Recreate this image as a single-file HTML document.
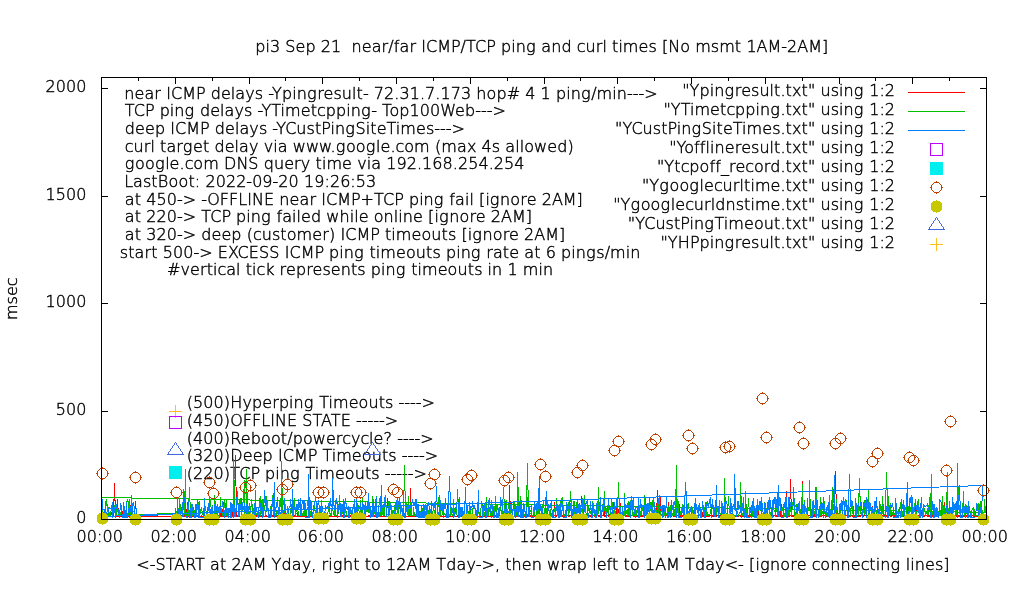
<!DOCTYPE html>
<html lang="en"><head><meta charset="utf-8"><title>pi3 Sep 21 near/far ICMP/TCP ping and curl times</title>
<style>html,body{margin:0;padding:0;background:#fff}body{width:1020px;height:600px;overflow:hidden}svg{display:block}text{font-family:"DejaVu Sans","Liberation Sans",sans-serif;font-size:16px;font-weight:200;font-kerning:none;font-variant-ligatures:none;fill:#000;stroke:#000;stroke-width:.42px;white-space:pre}.c{shape-rendering:crispEdges;fill:none}</style></head><body>
<svg width="1020" height="600" viewBox="0 0 1020 600">
<rect width="1020" height="600" fill="#fff"/>
<defs><path id="oc" d="M-2.5-5H2.5M-2.5 5H2.5M-5-2.5V2.5M5-2.5V2.5M-3.5-4h1m5 0h1M-4.5-3h1m7 0h1M-4.5 3h1m7 0h1M-3.5 4h1m5 0h1M0-6.5v1m0 11v1M-6.5 0h1m11 0h1" stroke="#c04000" fill="none" shape-rendering="crispEdges"/><path id="fc" d="M-3.5-5.5h7v1h1v1h1v7h-1v1h-1v1h-7v-1h-1v-1h-1v-7h1v-1h1zM-.5-6.5h1v13h-1z" fill="#c8c800" shape-rendering="crispEdges"/><path id="tr" d="M0-8L8 4H-8Z" stroke="#4169e1" fill="none" shape-rendering="crispEdges"/></defs>
<path class="c" d="M101.5 77v7M101.5 520v-7M138.5 77v4M138.5 520v-4M175.5 77v7M175.5 520v-7M212.5 77v4M212.5 520v-4M249.5 77v7M249.5 520v-7M285.5 77v4M285.5 520v-4M322.5 77v7M322.5 520v-7M359.5 77v4M359.5 520v-4M396.5 77v7M396.5 520v-7M433.5 77v4M433.5 520v-4M470.5 77v7M470.5 520v-7M507.5 77v4M507.5 520v-4M544.5 77v7M544.5 520v-7M580.5 77v4M580.5 520v-4M617.5 77v7M617.5 520v-7M654.5 77v4M654.5 520v-4M691.5 77v7M691.5 520v-7M728.5 77v4M728.5 520v-4M765.5 77v7M765.5 520v-7M802.5 77v4M802.5 520v-4M839.5 77v7M839.5 520v-7M875.5 77v4M875.5 520v-4M912.5 77v7M912.5 520v-7M949.5 77v4M949.5 520v-4M986.5 77v7M986.5 520v-7M101 519.5h7M987 519.5h-7M101 411.5h7M987 411.5h-7M101 303.5h7M987 303.5h-7M101 196.5h7M987 196.5h-7M101 88.5h7M987 88.5h-7" stroke="#000"/>
<text x="124.25 134.49 144.41 154.33 161.05 166.17 170.97 182.17 195.93 205.53 210.65 220.89 230.81 235.29 245.21 254.81 263.13 268.25 272.09 282.01 292.25 296.73 306.97 317.21 323.61 333.53 341.85 352.09 356.57 362.97 368.73 373.85 384.09 394.33 399.45 409.69 419.93 425.05 435.29 440.41 450.65 460.89 471.13 476.25 486.49 496.41 506.65 520.09 525.21 535.45 540.57 550.81 555.93 566.17 570.65 580.89 591.13 596.57 612.25 616.73 626.97 632.73 638.49 644.25" y="99">near ICMP delays -Ypingresult- 72.31.7.173 hop# 4 1 ping/min---&gt;</text>
<text x="124.75 133.71 144.91 154.51 159.63 169.87 174.35 184.59 194.83 199.95 210.19 220.11 224.59 234.51 244.11 252.43 257.55 261.39 271.31 280.59 285.07 300.75 310.67 317.07 325.71 335.95 346.19 350.67 360.91 371.15 376.91 382.03 389.39 399.31 409.55 419.79 430.03 440.27 454.99 464.91 475.15 480.91 486.67 492.43" y="116">TCP ping delays -YTimetcpping- Top100Web---&gt;</text>
<text x="124.82 135.06 144.98 154.9 165.14 170.26 175.06 186.26 200.02 209.62 214.74 224.98 234.9 239.38 249.3 258.9 267.22 272.34 276.18 285.14 296.34 306.58 314.9 321.3 330.58 335.06 345.3 355.54 365.78 370.26 376.66 386.58 395.86 400.34 416.02 425.94 434.26 440.02 445.78 451.54" y="134">deep ICMP delays -YCustPingSiteTimes---&gt;</text>
<text x="124.82 133.46 143.7 150.42 154.9 160.02 166.42 176.34 182.74 192.98 202.9 209.3 214.42 224.66 234.58 239.06 248.98 258.58 263.7 273.3 277.78 287.7 292.82 305.94 319.06 330.58 335.7 345.94 355.86 365.78 376.02 380.5 390.42 395.54 404.18 414.1 429.78 434.9 441.3 456.98 466.9 476.5 481.62 491.86 500.18 505.3 515.22 519.7 524.18 534.1 547.22 557.14 567.38" y="152">curl target delay via www.google.com (max 4s allowed)</text>
<text x="124.82 135.06 144.98 154.9 165.14 169.62 179.54 184.66 193.3 203.22 218.9 224.02 236.5 248.34 258.58 263.7 273.94 284.18 294.1 300.82 310.42 315.54 321.94 326.42 342.1 352.02 357.14 366.74 371.22 381.14 386.26 396.5 406.74 416.98 422.1 432.34 442.58 452.82 457.94 468.18 478.42 488.66 493.78 504.02 514.26" y="169">google.com DNS query time via 192.168.254.254</text>
<text x="124.13 133.09 143.01 151.33 157.73 168.61 178.53 188.45 194.85 200.29 205.41 215.65 225.89 236.13 246.37 252.13 262.37 272.61 278.37 288.61 298.85 303.97 314.21 324.45 329.89 340.13 350.37 355.81 366.05" y="187">LastBoot: 2022-09-20 19:26:53</text>
<text x="124.74 134.66 141.06 146.18 156.42 166.66 176.9 182.66 196.1 201.22 207.3 219.78 229.06 238.34 247.3 252.1 263.94 274.18 279.3 289.54 299.46 309.38 316.1 321.22 326.02 337.22 350.98 360.58 374.02 382.98 394.18 403.78 408.9 419.14 423.62 433.86 444.1 449.22 454.98 464.9 469.38 473.86 478.98 485.38 489.86 500.1 510.34 520.26 526.66 536.58 541.7 551.94 562.82 576.58" y="205">at 450-&gt; -OFFLINE near ICMP+TCP ping fail [ignore 2AM]</text>
<text x="124.74 134.66 141.06 146.18 156.42 166.66 176.9 182.66 196.1 201.22 210.18 221.38 230.98 236.1 246.34 250.82 261.06 271.3 276.42 282.18 292.1 296.58 301.06 310.98 321.22 326.34 339.46 349.7 354.18 358.66 368.58 373.7 383.62 393.86 398.34 402.82 413.06 422.98 428.1 434.5 438.98 449.22 459.46 469.38 475.78 485.7 490.82 501.06 511.94 525.7" y="222">at 220-&gt; TCP ping failed while online [ignore 2AM]</text>
<text x="124.74 134.66 141.06 146.18 156.42 166.66 176.9 182.66 196.1 201.22 211.46 221.38 231.3 241.54 246.66 253.06 261.7 271.94 280.26 286.66 296.58 312.26 322.18 328.9 335.3 340.42 345.22 356.42 370.18 379.78 384.9 391.3 395.78 411.46 421.38 431.3 441.54 447.94 456.26 461.38 467.78 472.26 482.5 492.74 502.66 509.06 518.98 524.1 534.34 545.22 558.98" y="240">at 320-&gt; deep (customer) ICMP timeouts [ignore 2AM]</text>
<text x="119.83 128.15 134.55 144.47 151.19 157.59 162.71 172.95 183.19 193.43 199.19 212.63 217.75 227.99 237.59 248.79 259.03 269.27 279.51 284.63 289.43 300.63 314.39 323.99 329.11 339.35 343.83 354.07 364.31 369.43 375.83 380.31 395.99 405.91 415.83 426.07 432.47 440.79 445.91 456.15 460.63 470.87 481.11 486.23 492.95 502.87 509.27 519.19 524.31 534.23 540.63 545.75 555.99 561.11 571.35 575.83 586.07 596.31 604.63 610.07 625.75 630.23" y="257.5">start 500-&gt; EXCESS ICMP ping timeouts ping rate at 6 pings/min</text>
<text x="166.97 180.41 190.01 199.93 206.65 213.05 217.53 226.17 236.09 240.57 245.69 252.09 256.57 265.21 274.49 279.61 286.01 295.93 306.17 312.57 322.49 330.81 340.73 350.97 357.37 365.69 370.81 381.05 385.53 395.77 406.01 411.13 417.53 422.01 437.69 447.61 457.53 467.77 474.17 482.49 487.61 492.09 502.33 507.45 517.69 522.81 538.49 542.97" y="275">#vertical tick represents ping timeouts in 1 min</text>
<text x="186.72 193.12 203.37 213.6 223.84 230.25 242.41 252 262.25 272.16 278.88 289.12 293.61 303.85 314.08 319.2 328.49 332.97 348.64 358.56 368.49 378.73 385.12 393.44 398.56 404.32 410.09 415.85 421.61" y="408">(500)Hyperping Timeouts ----&gt;</text>
<text x="186.72 193.12 203.37 213.6 223.84 230.25 242.72 252 261.28 270.25 275.05 286.88 297.12 302.25 312.49 321.12 330.73 340.64 350.88 356 361.76 367.52 373.28 379.04 384.81" y="426">(450)OFFLINE STATE -----&gt;</text>
<text x="186.72 193.12 203.37 213.6 223.84 230.25 240.81 250.72 260.96 270.88 280.81 287.2 292.64 302.88 312.81 325.93 335.85 342.25 350.88 360.49 369.12 373.61 383.52 392.16 397.28 403.04 408.81 414.56 420.32" y="443.5">(400)Reboot/powercycle? ----&gt;</text>
<text x="186.72 193.12 203.37 213.6 223.84 230.25 242.72 252.64 262.56 272.81 277.93 282.73 293.93 307.69 317.28 322.4 331.69 336.16 351.85 361.76 371.69 381.93 388.32 396.64 401.76 407.52 413.28 419.04 424.81" y="461">(320)Deep ICMP Timeouts ----&gt;</text>
<text x="186.72 193.12 203.37 213.6 223.84 230.25 239.2 250.41 260 265.12 275.37 279.85 290.08 300.32 305.44 314.73 319.2 334.88 344.81 354.73 364.97 371.37 379.69 384.81 390.56 396.32 402.09 407.85 413.61" y="478.5">(220)TCP ping Timeouts -----&gt;</text>
<path class="c" d="M169.0 411.5h13M175.5 405.0v13" stroke="#ffc020"/>
<rect class="c" x="169.5" y="416.5" width="12" height="12" stroke="#c000ff"/>
<use href="#tr" x="175.5" y="450.5"/>
<rect x="169.0" y="466.0" width="13" height="13" fill="#00eeee" shape-rendering="crispEdges"/>
<text x="255.18 265.42 269.9 280.14 285.26 295.5 305.42 315.66 320.78 331.02 341.26 346.38 351.5 361.74 371.66 381.58 388.3 393.74 399.5 409.42 416.14 421.26 426.06 437.26 451.02 460.62 466.06 475.02 486.22 495.82 500.94 511.18 515.66 525.9 536.14 541.26 551.18 561.42 571.66 576.78 585.42 595.66 602.38 606.86 611.98 618.38 622.86 638.54 648.46 656.78 661.9 668.3 680.14 690.06 695.18 710.86 719.18 734.86 741.26 746.38 756.62 767.5 781.26 787.02 797.26 808.14 821.9" y="52">pi3 Sep 21  near/far ICMP/TCP ping and curl times [No msmt 1AM-2AM]</text>
<text x="136.2 149.64 155.4 165.64 174.28 185.16 195.08 205 210.12 220.04 226.44 231.56 241.8 252.68 266.44 271.56 281.48 291.72 301.64 311.24 316.36 321.48 328.2 332.68 342.92 353.16 359.56 364.68 371.08 381 386.12 396.36 406.6 417.48 431.24 436.36 446.28 456.52 466.44 475.72 481.48 494.92 500.04 505.16 511.56 521.8 531.72 541.96 547.08 560.2 566.92 576.84 587.08 592.2 596.68 606.6 612.04 618.44 623.56 629.96 639.88 645 655.24 666.12 679.88 685 694.92 705.16 715.08 724.68 738.12 743.88 749 755.4 759.88 770.12 780.36 790.28 796.68 806.6 811.72 820.36 830.28 840.52 850.76 860.68 869.32 875.72 880.2 890.44 900.68 905.8 910.28 914.76 925 934.92 943.24" y="570">&lt;-START at 2AM Yday, right to 12AM Tday-&gt;, then wrap left to 1AM Tday&lt;- [ignore connecting lines]</text>
<text transform="translate(17 320.09) rotate(-90)" x="0 15.68 24 33.92" y="0">msec</text>
<text x="45.51 55.75 65.99 76.23" y="92">2000</text>
<text x="45.51 55.75 65.99 76.23" y="200">1500</text>
<text x="45.51 55.75 65.99 76.23" y="307">1000</text>
<text x="55.75 65.99 76.23" y="415">500</text>
<text x="76.23" y="523">0</text>
<text x="76.53 86.77 97.01 102.45 112.69" y="542">00:00</text>
<text x="150.53 160.77 171.01 176.45 186.69" y="542">02:00</text>
<text x="224.53 234.77 245.01 250.45 260.69" y="542">04:00</text>
<text x="297.53 307.77 318.01 323.45 333.69" y="542">06:00</text>
<text x="371.53 381.77 392.01 397.45 407.69" y="542">08:00</text>
<text x="445.18 455.42 465.66 471.1 481.34" y="542">10:00</text>
<text x="519.18 529.42 539.66 545.1 555.34" y="542">12:00</text>
<text x="592.18 602.42 612.66 618.1 628.34" y="542">14:00</text>
<text x="666.18 676.42 686.66 692.1 702.34" y="542">16:00</text>
<text x="740.18 750.42 760.66 766.1 776.34" y="542">18:00</text>
<text x="814.48 824.72 834.96 840.4 850.64" y="542">20:00</text>
<text x="887.48 897.72 907.96 913.4 923.64" y="542">22:00</text>
<text x="961.53 971.77 982.01 987.45 997.69" y="542">00:00</text>
<path class="c" d="M175.5 515.5H176.5L177.5 516.5V515.5L178.5 516.5L179.5 514.5V516.5L180.5 515.5V516.5L181.5 515.5H182.5V516.5H183.5V515.5H184.5L185.5 516.5H186.5L187.5 502.5V515.5L188.5 516.5V515.5H189.5H190.5L191.5 516.5V515.5L192.5 516.5H193.5V511.5L194.5 515.5H195.5L196.5 516.5L197.5 515.5L198.5 516.5L199.5 515.5V516.5H200.5L201.5 515.5V516.5H202.5H203.5L204.5 515.5V516.5L205.5 515.5L206.5 516.5L207.5 515.5V516.5L208.5 515.5L209.5 516.5H210.5H211.5V515.5L212.5 516.5H213.5H214.5H215.5H216.5L217.5 515.5V516.5H218.5H219.5L220.5 515.5V509.5L221.5 515.5L222.5 516.5V515.5L223.5 502.5V515.5L224.5 516.5L225.5 515.5L226.5 504.5V515.5L227.5 516.5H228.5H229.5H230.5V515.5L231.5 516.5V504.5L232.5 516.5L233.5 515.5H234.5L235.5 455.5L236.5 516.5V515.5H237.5L238.5 516.5V510.5L239.5 516.5H240.5H241.5L242.5 515.5V516.5H243.5H244.5L245.5 512.5L246.5 515.5V516.5L247.5 515.5H248.5H249.5H250.5H251.5H252.5V514.5L253.5 516.5H254.5V515.5H255.5L256.5 514.5L257.5 516.5H258.5L259.5 515.5H260.5H261.5L262.5 516.5V515.5H263.5V516.5H264.5L265.5 515.5V516.5L266.5 515.5V516.5H267.5H268.5L269.5 515.5L270.5 514.5V516.5H271.5L272.5 515.5H273.5V516.5H274.5H275.5H276.5L277.5 515.5L278.5 516.5V514.5L279.5 515.5H280.5L281.5 516.5H282.5H283.5H284.5V513.5L285.5 515.5H286.5L287.5 516.5H288.5H289.5H290.5V515.5L291.5 516.5H292.5H293.5L294.5 515.5L295.5 516.5V515.5L296.5 516.5H297.5V512.5L298.5 516.5L299.5 515.5H300.5L301.5 516.5L302.5 515.5L303.5 516.5H304.5L305.5 511.5V515.5H306.5V516.5H307.5H308.5H309.5H310.5L311.5 515.5H312.5H313.5V516.5L314.5 515.5V516.5L315.5 515.5L316.5 516.5V511.5L317.5 516.5H318.5H319.5H320.5H321.5V515.5L322.5 516.5V515.5H323.5L324.5 516.5V515.5L325.5 516.5H326.5L327.5 515.5V516.5H328.5H329.5V515.5L330.5 516.5V515.5H331.5L332.5 516.5H333.5H334.5H335.5H336.5H337.5H338.5H339.5H340.5H341.5L342.5 515.5L343.5 516.5H344.5V515.5H345.5L346.5 516.5V515.5H347.5H348.5V516.5H349.5L350.5 515.5L351.5 516.5L352.5 515.5V516.5H353.5L354.5 515.5V516.5L355.5 511.5L356.5 516.5L357.5 515.5V516.5H358.5L359.5 515.5H360.5V516.5L361.5 515.5L362.5 516.5L363.5 515.5H364.5V516.5H365.5V515.5L366.5 516.5H367.5L368.5 515.5H369.5L370.5 516.5V515.5H371.5L372.5 516.5H373.5V515.5H374.5L375.5 516.5H376.5V515.5H377.5L378.5 516.5L379.5 515.5L380.5 516.5H381.5V515.5L382.5 516.5L383.5 515.5V516.5H384.5V515.5L385.5 516.5H386.5V515.5L387.5 498.5L388.5 516.5V515.5H389.5H390.5H391.5H392.5V516.5L393.5 515.5L394.5 516.5V515.5H395.5H396.5H397.5V516.5H398.5L399.5 515.5V516.5H400.5V515.5L401.5 516.5H402.5H403.5V511.5L404.5 516.5H405.5V515.5L406.5 516.5H407.5H408.5V515.5H409.5H410.5V488.5L411.5 516.5V515.5H412.5H413.5V516.5H414.5H415.5V515.5H416.5L417.5 516.5L418.5 515.5V516.5L419.5 515.5V516.5H420.5H421.5V515.5L422.5 516.5L423.5 515.5V514.5L424.5 511.5V516.5L425.5 515.5L426.5 516.5V515.5H427.5L428.5 514.5L429.5 515.5H430.5L431.5 516.5H432.5H433.5H434.5V513.5L435.5 516.5V515.5L436.5 516.5H437.5V515.5L438.5 516.5H439.5H440.5L441.5 515.5L442.5 516.5H443.5H444.5H445.5H446.5H447.5V515.5L448.5 491.5V515.5L449.5 514.5L450.5 516.5H451.5H452.5H453.5V515.5L454.5 516.5H455.5H456.5L457.5 515.5L458.5 516.5V515.5H459.5L460.5 516.5L461.5 515.5V516.5H462.5L463.5 511.5L464.5 516.5H465.5H466.5V515.5H467.5L468.5 516.5L469.5 515.5V516.5L470.5 515.5H471.5L472.5 516.5H473.5L474.5 515.5V516.5H475.5L476.5 515.5L477.5 516.5V515.5L478.5 516.5L479.5 515.5L480.5 516.5H481.5H482.5V515.5H483.5V516.5L484.5 515.5L485.5 516.5V515.5L486.5 516.5L487.5 515.5L488.5 516.5H489.5H490.5V515.5L491.5 516.5L492.5 515.5H493.5V516.5H494.5V515.5H495.5H496.5L497.5 516.5L498.5 515.5V516.5H499.5V515.5L500.5 516.5H501.5L502.5 515.5V512.5L503.5 516.5H504.5V512.5L505.5 515.5H506.5L507.5 516.5V515.5L508.5 516.5L509.5 515.5V485.5L510.5 516.5V515.5L511.5 502.5L512.5 516.5H513.5H514.5H515.5L516.5 515.5L517.5 516.5H518.5L519.5 515.5H520.5V516.5L521.5 515.5V516.5L522.5 515.5H523.5V516.5H524.5L525.5 515.5V516.5L526.5 515.5V516.5L527.5 514.5L528.5 515.5L529.5 516.5L530.5 515.5L531.5 516.5H532.5L533.5 515.5H534.5H535.5H536.5L537.5 516.5H538.5H539.5H540.5L541.5 512.5V515.5H542.5V516.5L543.5 515.5L544.5 516.5H545.5V515.5H546.5H547.5V512.5L548.5 516.5H549.5L550.5 515.5L551.5 516.5H552.5H553.5V515.5L554.5 502.5L555.5 516.5H556.5L557.5 515.5H558.5V516.5H559.5H560.5H561.5H562.5H563.5V515.5L564.5 516.5L565.5 515.5V516.5H566.5V515.5H567.5H568.5V516.5H569.5V515.5H570.5L571.5 516.5L572.5 513.5L573.5 516.5V515.5H574.5V516.5H575.5H576.5H577.5V515.5H578.5L579.5 516.5L580.5 515.5L581.5 496.5L582.5 516.5L583.5 515.5L584.5 516.5L585.5 515.5H586.5L587.5 516.5L588.5 515.5V516.5H589.5H590.5V515.5L591.5 516.5L592.5 515.5V516.5L593.5 515.5L594.5 516.5L595.5 515.5V516.5H596.5V515.5H597.5L598.5 516.5H599.5L600.5 515.5V513.5L601.5 516.5V515.5H602.5H603.5V503.5L604.5 516.5H605.5H606.5V515.5H607.5L608.5 516.5L609.5 515.5V516.5L610.5 512.5L611.5 515.5H612.5L613.5 502.5L614.5 515.5V516.5L615.5 515.5L616.5 506.5V516.5H617.5V515.5L618.5 516.5L619.5 502.5V515.5L620.5 503.5V515.5L621.5 516.5H622.5L623.5 515.5H624.5L625.5 516.5V515.5L626.5 516.5H627.5V515.5H628.5V516.5H629.5L630.5 515.5V516.5L631.5 515.5H632.5L633.5 516.5H634.5H635.5V515.5H636.5V516.5H637.5H638.5V513.5L639.5 516.5H640.5L641.5 515.5V516.5H642.5H643.5H644.5V515.5H645.5L646.5 507.5V515.5H647.5V516.5L648.5 515.5H649.5L650.5 516.5L651.5 515.5V516.5H652.5L653.5 515.5H654.5L655.5 516.5H656.5L657.5 490.5V516.5H658.5H659.5L660.5 497.5V516.5L661.5 515.5L662.5 516.5V515.5L663.5 516.5V508.5L664.5 515.5H665.5H666.5L667.5 516.5L668.5 515.5V502.5L669.5 516.5L670.5 515.5V516.5H671.5L672.5 515.5L673.5 516.5H674.5H675.5V515.5H676.5H677.5L678.5 516.5H679.5V504.5L680.5 516.5L681.5 515.5V516.5H682.5L683.5 515.5V516.5H684.5V515.5L685.5 514.5L686.5 515.5L687.5 516.5L688.5 515.5H689.5L690.5 516.5L691.5 515.5H692.5V516.5H693.5L694.5 515.5L695.5 511.5V516.5L696.5 515.5H697.5V516.5H698.5V515.5H699.5L700.5 516.5V515.5L701.5 516.5L702.5 512.5V516.5H703.5V513.5L704.5 516.5L705.5 515.5L706.5 516.5H707.5H708.5H709.5L710.5 515.5L711.5 516.5H712.5L713.5 515.5V516.5L714.5 511.5V515.5H715.5L716.5 516.5L717.5 515.5L718.5 516.5H719.5V515.5H720.5L721.5 516.5H722.5V515.5L723.5 516.5L724.5 503.5V516.5H725.5L726.5 515.5V516.5L727.5 515.5V516.5H728.5H729.5V515.5H730.5V511.5L731.5 514.5L732.5 515.5V516.5H733.5L734.5 515.5V516.5H735.5V515.5L736.5 516.5L737.5 515.5V516.5H738.5L739.5 515.5L740.5 516.5H741.5H742.5H743.5V515.5L744.5 516.5H745.5V515.5L746.5 516.5H747.5L748.5 515.5V516.5L749.5 515.5H750.5V516.5L751.5 515.5V516.5H752.5L753.5 515.5V516.5L754.5 515.5V516.5H755.5H756.5V515.5L757.5 516.5V502.5L758.5 515.5L759.5 516.5H760.5H761.5V515.5L762.5 516.5H763.5H764.5V515.5L765.5 516.5L766.5 515.5L767.5 507.5V515.5L768.5 516.5L769.5 515.5V516.5L770.5 515.5V516.5H771.5L772.5 515.5L773.5 516.5V515.5H774.5H775.5L776.5 516.5H777.5L778.5 515.5V516.5L779.5 515.5L780.5 516.5L781.5 504.5V516.5H782.5H783.5V515.5L784.5 516.5H785.5V507.5L786.5 491.5V516.5H787.5L788.5 507.5V516.5L789.5 515.5V516.5L790.5 479.5L791.5 516.5V515.5L792.5 516.5H793.5H794.5V515.5H795.5H796.5L797.5 516.5H798.5H799.5V515.5H800.5L801.5 516.5V515.5L802.5 481.5V514.5L803.5 513.5L804.5 516.5L805.5 515.5V516.5H806.5L807.5 515.5V516.5L808.5 515.5H809.5L810.5 516.5H811.5H812.5V515.5H813.5V516.5H814.5L815.5 509.5V516.5H816.5L817.5 515.5L818.5 516.5V515.5L819.5 516.5H820.5V515.5H821.5V516.5L822.5 515.5L823.5 516.5L824.5 515.5L825.5 516.5H826.5H827.5L828.5 515.5H829.5L830.5 516.5H831.5L832.5 515.5V516.5H833.5H834.5L835.5 471.5L836.5 515.5H837.5H838.5L839.5 516.5H840.5L841.5 515.5L842.5 516.5H843.5H844.5V515.5L845.5 516.5L846.5 515.5L847.5 516.5V515.5H848.5L849.5 516.5H850.5L851.5 515.5L852.5 516.5V515.5H853.5V516.5H854.5H855.5H856.5H857.5H858.5H859.5H860.5L861.5 515.5L862.5 516.5L863.5 515.5V516.5L864.5 515.5H865.5L866.5 516.5V515.5H867.5H868.5L869.5 516.5H870.5H871.5V515.5L872.5 516.5V506.5L873.5 516.5H874.5V515.5L875.5 516.5H876.5L877.5 515.5H878.5H879.5V516.5H880.5H881.5H882.5V515.5H883.5L884.5 516.5L885.5 515.5L886.5 516.5L887.5 515.5H888.5V516.5L889.5 513.5L890.5 516.5H891.5L892.5 515.5L893.5 516.5H894.5L895.5 515.5V516.5H896.5V515.5L897.5 516.5L898.5 515.5V516.5L899.5 515.5H900.5L901.5 516.5L902.5 515.5L903.5 516.5H904.5V515.5L905.5 516.5L906.5 515.5V516.5L907.5 515.5V516.5L908.5 515.5H909.5V516.5H910.5L911.5 515.5V516.5L912.5 515.5V516.5H913.5H914.5L915.5 512.5V503.5L916.5 515.5L917.5 516.5V515.5H918.5H919.5V516.5H920.5V504.5L921.5 515.5L922.5 516.5H923.5H924.5L925.5 515.5H926.5L927.5 516.5H928.5V515.5L929.5 516.5H930.5L931.5 515.5V516.5H932.5L933.5 515.5H934.5V516.5H935.5L936.5 515.5H937.5H938.5V516.5L939.5 515.5H940.5L941.5 516.5L942.5 515.5V516.5L943.5 515.5L944.5 502.5V516.5H945.5H946.5V515.5L947.5 516.5V515.5H948.5L949.5 514.5V507.5L950.5 516.5H951.5H952.5V515.5L953.5 516.5H954.5H955.5H956.5H957.5L958.5 515.5V516.5H959.5H960.5H961.5H962.5H963.5V515.5L964.5 516.5L965.5 515.5V516.5H966.5H967.5L968.5 515.5V516.5H969.5H970.5H971.5L972.5 515.5L973.5 516.5L974.5 511.5V516.5L975.5 515.5L976.5 516.5V515.5L977.5 516.5H978.5L979.5 515.5V516.5H980.5H981.5H982.5H983.5H984.5L985.5 515.5L101.5 516.5V507.5L102.5 515.5V516.5L103.5 514.5L104.5 515.5V514.5L105.5 516.5H106.5L107.5 513.5V515.5L108.5 516.5H109.5L110.5 515.5V516.5L111.5 513.5L112.5 515.5V516.5L113.5 500.5V516.5L114.5 483.5L115.5 516.5V515.5L116.5 516.5V509.5L117.5 499.5L118.5 516.5L119.5 515.5L120.5 516.5V515.5L121.5 516.5V505.5L122.5 515.5L123.5 513.5V516.5L124.5 515.5L125.5 516.5L126.5 515.5H127.5L128.5 516.5H129.5L130.5 505.5L131.5 516.5V515.5L132.5 516.5H133.5L134.5 515.5V516.5L135.5 501.5L136.5 515.5L137.5 516.5L138.5 515.5L176.5 516.5" stroke="#ff0000"/>
<path class="c" d="M175.5 515.5L176.5 512.5L177.5 515.5V499.5L178.5 515.5L179.5 502.5V499.5L180.5 507.5V511.5L181.5 512.5L182.5 503.5V515.5H183.5L184.5 513.5L185.5 469.5V507.5L186.5 515.5L187.5 510.5V506.5L188.5 515.5V508.5L189.5 487.5L190.5 515.5V506.5L191.5 504.5V506.5L192.5 515.5L193.5 510.5V515.5L194.5 511.5L195.5 513.5V515.5L196.5 514.5V515.5L197.5 505.5L198.5 513.5V502.5L199.5 509.5V515.5L200.5 510.5L201.5 508.5V507.5L202.5 513.5L203.5 515.5L204.5 510.5V501.5L205.5 510.5L206.5 511.5V513.5L207.5 512.5V513.5L208.5 514.5L209.5 515.5V512.5L210.5 499.5L211.5 513.5V514.5L212.5 515.5V505.5L213.5 515.5L214.5 513.5V495.5L215.5 505.5V515.5L216.5 514.5L217.5 504.5V514.5L218.5 515.5H219.5V514.5L220.5 497.5V508.5H221.5L222.5 515.5V513.5L223.5 515.5V510.5L224.5 500.5L225.5 515.5V505.5L226.5 515.5V500.5L227.5 514.5L228.5 508.5V515.5L229.5 513.5L230.5 504.5V515.5H231.5V513.5L232.5 506.5L233.5 510.5V459.5L234.5 499.5V512.5L235.5 515.5L236.5 501.5V506.5L237.5 502.5L238.5 503.5V514.5L239.5 515.5V511.5L240.5 498.5L241.5 515.5L242.5 508.5L243.5 498.5L244.5 480.5V515.5L245.5 506.5L246.5 514.5V469.5L247.5 515.5V505.5L248.5 515.5L249.5 513.5V515.5L250.5 509.5V513.5L251.5 499.5L252.5 514.5V504.5L253.5 511.5L254.5 515.5L255.5 514.5V512.5L256.5 513.5L257.5 515.5L258.5 509.5V515.5L259.5 513.5L260.5 515.5V496.5L261.5 511.5L262.5 515.5V499.5H263.5V506.5L264.5 505.5L265.5 515.5L266.5 508.5V496.5L267.5 505.5L268.5 513.5V515.5L269.5 514.5L270.5 513.5V506.5L271.5 515.5V513.5L272.5 495.5H273.5V514.5L274.5 511.5V515.5H275.5L276.5 511.5V515.5L277.5 511.5L278.5 515.5H279.5V504.5L280.5 498.5L281.5 514.5V461.5L282.5 512.5V509.5L283.5 501.5L284.5 502.5V512.5L285.5 504.5V513.5L286.5 514.5L287.5 513.5V506.5L288.5 515.5H289.5V514.5L290.5 515.5V508.5H291.5L292.5 501.5V515.5L293.5 512.5V515.5L294.5 498.5L295.5 515.5L296.5 512.5L297.5 508.5V506.5L298.5 515.5H299.5H300.5V513.5L301.5 515.5V510.5L302.5 515.5L303.5 511.5V515.5H304.5L305.5 503.5V515.5H306.5V513.5L307.5 506.5L308.5 496.5V513.5L309.5 504.5V506.5L310.5 515.5L311.5 506.5V515.5H312.5L313.5 512.5V513.5L314.5 508.5V506.5L315.5 512.5L316.5 513.5V502.5L317.5 514.5V515.5H318.5H319.5V514.5L320.5 515.5L321.5 500.5V515.5L322.5 513.5V515.5H323.5H324.5V511.5L325.5 513.5V515.5H326.5H327.5L328.5 508.5L329.5 510.5V511.5L330.5 515.5H331.5L332.5 503.5V506.5L333.5 514.5V512.5L334.5 515.5L335.5 501.5V515.5H336.5H337.5V513.5H338.5L339.5 495.5L340.5 514.5V513.5L341.5 512.5V505.5L342.5 513.5L343.5 512.5V506.5L344.5 515.5V503.5L345.5 512.5L346.5 511.5V515.5H347.5H348.5L349.5 508.5V511.5L350.5 513.5L351.5 512.5V510.5L352.5 512.5V515.5H353.5L354.5 513.5V515.5L355.5 507.5L356.5 511.5V515.5L357.5 513.5V515.5L358.5 505.5L359.5 515.5V513.5L360.5 515.5V500.5L361.5 515.5L362.5 510.5V497.5L363.5 509.5H364.5L365.5 506.5V515.5L366.5 508.5L367.5 511.5V503.5L368.5 512.5V495.5L369.5 512.5H370.5L371.5 515.5H372.5V496.5L373.5 512.5V515.5L374.5 511.5L375.5 515.5V506.5L376.5 496.5V507.5L377.5 515.5H378.5V511.5L379.5 499.5L380.5 501.5V515.5H381.5V501.5L382.5 513.5L383.5 515.5V507.5L384.5 504.5V515.5L385.5 495.5L386.5 514.5V515.5L387.5 514.5L388.5 513.5V501.5H389.5V511.5L390.5 507.5L391.5 505.5V515.5L392.5 513.5V510.5H393.5L394.5 514.5V505.5L395.5 515.5H396.5L397.5 511.5V497.5L398.5 512.5L399.5 515.5V514.5L400.5 515.5V502.5L401.5 508.5L402.5 515.5V512.5H403.5V515.5L404.5 465.5L405.5 515.5L406.5 503.5L407.5 505.5V513.5L408.5 515.5V496.5L409.5 514.5L410.5 515.5V503.5L411.5 504.5V515.5H412.5H413.5V507.5L414.5 515.5H415.5V514.5L416.5 513.5V512.5L417.5 515.5L418.5 506.5V515.5H419.5L420.5 512.5L421.5 515.5L422.5 508.5L423.5 515.5V514.5L424.5 515.5V507.5L425.5 504.5L426.5 515.5V513.5H427.5V503.5L428.5 515.5L429.5 514.5V508.5L430.5 511.5L431.5 515.5V511.5L432.5 515.5L433.5 506.5L434.5 513.5V512.5H435.5V515.5H436.5L437.5 512.5V515.5L438.5 499.5L439.5 495.5V515.5L440.5 510.5V515.5H441.5L442.5 514.5V506.5L443.5 513.5V514.5L444.5 513.5L445.5 515.5H446.5H447.5V514.5L448.5 503.5V513.5L449.5 515.5H450.5V498.5L451.5 514.5V513.5L452.5 515.5H453.5V499.5L454.5 515.5L455.5 512.5V508.5L456.5 514.5L457.5 489.5L458.5 508.5V512.5L459.5 515.5V505.5L460.5 515.5L461.5 513.5V508.5L462.5 513.5V511.5L463.5 515.5H464.5H465.5L466.5 513.5V515.5L467.5 512.5V506.5L468.5 515.5L469.5 512.5V503.5L470.5 513.5V510.5L471.5 509.5L472.5 508.5V515.5H473.5H474.5H475.5H476.5L477.5 513.5L478.5 500.5V513.5L479.5 512.5L480.5 515.5V513.5L481.5 502.5L482.5 504.5V513.5L483.5 515.5V507.5L484.5 515.5L485.5 514.5V507.5L486.5 497.5V512.5L487.5 514.5L488.5 506.5V515.5L489.5 507.5L490.5 515.5V510.5L491.5 500.5V502.5L492.5 515.5L493.5 510.5V513.5L494.5 515.5L495.5 496.5L496.5 513.5V514.5L497.5 504.5L498.5 515.5V514.5L499.5 508.5V515.5L500.5 507.5L501.5 512.5V515.5L502.5 511.5L503.5 487.5L504.5 510.5V515.5H505.5L506.5 500.5V515.5H507.5L508.5 503.5L509.5 507.5V515.5L510.5 510.5V515.5L511.5 505.5L512.5 515.5L513.5 507.5L514.5 513.5V501.5L515.5 515.5V509.5L516.5 515.5L517.5 509.5V472.5L518.5 501.5V508.5L519.5 511.5L520.5 496.5V510.5L521.5 502.5V515.5L522.5 513.5L523.5 515.5H524.5L525.5 513.5V514.5L526.5 508.5V507.5L527.5 463.5L528.5 515.5V497.5L529.5 513.5V515.5L530.5 512.5L531.5 508.5V515.5H532.5H533.5V507.5L534.5 515.5V505.5L535.5 504.5L536.5 515.5V514.5L537.5 501.5V502.5L538.5 514.5L539.5 499.5V515.5L540.5 504.5L541.5 513.5V508.5L542.5 510.5V507.5L543.5 500.5L544.5 515.5H545.5V512.5L546.5 515.5L547.5 500.5V515.5L548.5 504.5L549.5 515.5H550.5V509.5L551.5 515.5L552.5 513.5V515.5L553.5 511.5V515.5L554.5 508.5L555.5 514.5V515.5L556.5 498.5L557.5 515.5V507.5L558.5 515.5L559.5 507.5L560.5 500.5V515.5L561.5 498.5V506.5L562.5 497.5L563.5 514.5V515.5H564.5L565.5 512.5V515.5H566.5V511.5L567.5 506.5L568.5 502.5V515.5L569.5 505.5V512.5L570.5 491.5L571.5 506.5V515.5H572.5H573.5V513.5L574.5 515.5V501.5L575.5 514.5L576.5 502.5V513.5L577.5 500.5V513.5L578.5 515.5H579.5L580.5 514.5V510.5L581.5 507.5L582.5 498.5V514.5L583.5 505.5L584.5 495.5V503.5L585.5 508.5V509.5L586.5 515.5H587.5V513.5L588.5 505.5V510.5H589.5L590.5 512.5L591.5 509.5L592.5 512.5V501.5L593.5 512.5V504.5L594.5 515.5L595.5 514.5V512.5L596.5 507.5V513.5L597.5 515.5L598.5 487.5V513.5L599.5 505.5L600.5 515.5L601.5 514.5V515.5L602.5 504.5L603.5 512.5V504.5L604.5 491.5V508.5L605.5 513.5L606.5 512.5V508.5L607.5 512.5L608.5 498.5V514.5L609.5 515.5H610.5L611.5 504.5V498.5L612.5 504.5V503.5L613.5 515.5H614.5V507.5L615.5 514.5H616.5V515.5L617.5 513.5V512.5L618.5 482.5L619.5 514.5V507.5L620.5 508.5V515.5L621.5 512.5L622.5 511.5V515.5L623.5 512.5L624.5 515.5V493.5L625.5 515.5L626.5 511.5L627.5 509.5V515.5H628.5V501.5L629.5 515.5L630.5 511.5V503.5L631.5 496.5L632.5 515.5V514.5L633.5 512.5V515.5H634.5L635.5 512.5L636.5 515.5V510.5L637.5 511.5L638.5 500.5L639.5 515.5V505.5L640.5 515.5L641.5 514.5V513.5L642.5 505.5L643.5 515.5L644.5 514.5V495.5L645.5 514.5L646.5 510.5V515.5L647.5 511.5L648.5 515.5L649.5 512.5V498.5L650.5 505.5L651.5 515.5V507.5L652.5 515.5V501.5L653.5 498.5L654.5 515.5V514.5L655.5 511.5V508.5L656.5 512.5L657.5 515.5V513.5H658.5L659.5 495.5V505.5L660.5 515.5H661.5L662.5 512.5V515.5H663.5V512.5L664.5 515.5L665.5 509.5V515.5L666.5 513.5L667.5 514.5V511.5L668.5 506.5V513.5L669.5 515.5L670.5 512.5V505.5L671.5 515.5V511.5L672.5 515.5H673.5V502.5L674.5 515.5H675.5V513.5L676.5 465.5V515.5L677.5 500.5L678.5 502.5V515.5H679.5L680.5 514.5L681.5 508.5V515.5L682.5 504.5L683.5 512.5V507.5L684.5 515.5V513.5L685.5 515.5L686.5 514.5V515.5H687.5L688.5 503.5L689.5 514.5V515.5L690.5 507.5L691.5 515.5V509.5L692.5 507.5V514.5L693.5 515.5H694.5V507.5L695.5 511.5V515.5H696.5H697.5H698.5V512.5L699.5 515.5L700.5 514.5V509.5L701.5 514.5L702.5 506.5V509.5H703.5V514.5L704.5 508.5L705.5 515.5L706.5 502.5V515.5L707.5 513.5L708.5 515.5V514.5H709.5L710.5 513.5V509.5L711.5 514.5V515.5L712.5 503.5L713.5 514.5V509.5L714.5 511.5V515.5H715.5L716.5 500.5V514.5L717.5 507.5L718.5 515.5L719.5 500.5V512.5L720.5 514.5L721.5 513.5V501.5L722.5 515.5H723.5L724.5 514.5V478.5L725.5 515.5H726.5L727.5 511.5V515.5L728.5 496.5L729.5 515.5L730.5 513.5V508.5L731.5 505.5L732.5 512.5V513.5L733.5 514.5L734.5 515.5H735.5H736.5L737.5 511.5V513.5L738.5 514.5V515.5L739.5 512.5H740.5V482.5L741.5 509.5L742.5 515.5V513.5L743.5 515.5V514.5L744.5 515.5H745.5V491.5L746.5 515.5V513.5L747.5 515.5L748.5 498.5V499.5L749.5 513.5L750.5 515.5V514.5L751.5 513.5L752.5 515.5L753.5 501.5V515.5L754.5 508.5V513.5L755.5 508.5L756.5 513.5V515.5L757.5 499.5V515.5L758.5 506.5L759.5 504.5V508.5L760.5 505.5L761.5 515.5L762.5 513.5V514.5L763.5 515.5H764.5V502.5L765.5 515.5L766.5 513.5L767.5 508.5V515.5L768.5 502.5L769.5 504.5V511.5L770.5 515.5V512.5L771.5 514.5L772.5 513.5V515.5L773.5 504.5V509.5L774.5 510.5L775.5 513.5V497.5L776.5 507.5L777.5 515.5V502.5L778.5 495.5V515.5L779.5 497.5L780.5 503.5V505.5L781.5 515.5V514.5L782.5 507.5L783.5 508.5V513.5L784.5 515.5L785.5 511.5V515.5H786.5V512.5L787.5 514.5L788.5 515.5V508.5L789.5 515.5V513.5L790.5 507.5L791.5 515.5L792.5 502.5L793.5 505.5V502.5L794.5 498.5V515.5L795.5 513.5L796.5 515.5V504.5L797.5 506.5V515.5L798.5 503.5L799.5 515.5V501.5L800.5 515.5L801.5 505.5V510.5L802.5 484.5V509.5L803.5 504.5L804.5 515.5V500.5L805.5 511.5V506.5L806.5 509.5L807.5 515.5V514.5L808.5 507.5L809.5 510.5V480.5L810.5 515.5V514.5L811.5 512.5H812.5V501.5L813.5 500.5V514.5L814.5 512.5L815.5 515.5V507.5L816.5 487.5V514.5L817.5 515.5L818.5 513.5V515.5H819.5L820.5 497.5V515.5L821.5 504.5V515.5L822.5 512.5L823.5 515.5L824.5 501.5V512.5L825.5 515.5H826.5V510.5L827.5 505.5L828.5 515.5L829.5 495.5V515.5L830.5 509.5L831.5 515.5V512.5L832.5 487.5V509.5L833.5 515.5H834.5V501.5L835.5 509.5L836.5 512.5V499.5L837.5 514.5V515.5H838.5L839.5 510.5V507.5L840.5 515.5L841.5 500.5L842.5 512.5L843.5 497.5L844.5 507.5V508.5L845.5 505.5V499.5L846.5 501.5L847.5 507.5V509.5L848.5 512.5V515.5L849.5 507.5L850.5 515.5L851.5 500.5L852.5 505.5V513.5L853.5 506.5V515.5H854.5H855.5V508.5H856.5V515.5L857.5 512.5L858.5 515.5V507.5L859.5 478.5L860.5 513.5L861.5 512.5V515.5L862.5 509.5L863.5 512.5V510.5L864.5 514.5V500.5L865.5 512.5L866.5 510.5V514.5L867.5 502.5L868.5 515.5V490.5L869.5 513.5V508.5H870.5H871.5V515.5L872.5 514.5V508.5L873.5 510.5L874.5 515.5V501.5L875.5 511.5V510.5L876.5 512.5L877.5 515.5L878.5 514.5L879.5 515.5V514.5L880.5 505.5V504.5L881.5 515.5L882.5 496.5V512.5L883.5 515.5V514.5H884.5L885.5 515.5V509.5L886.5 472.5L887.5 504.5V515.5L888.5 513.5V496.5L889.5 513.5L890.5 503.5V515.5L891.5 514.5V510.5L892.5 514.5L893.5 515.5L894.5 513.5L895.5 514.5V509.5L896.5 515.5L897.5 512.5L898.5 509.5V515.5L899.5 509.5V513.5L900.5 502.5L901.5 515.5V513.5L902.5 515.5L903.5 509.5V514.5H904.5V515.5H905.5L906.5 514.5V504.5H907.5V515.5L908.5 513.5L909.5 499.5V515.5L910.5 507.5L911.5 513.5V495.5L912.5 514.5V515.5L913.5 510.5L914.5 503.5V510.5L915.5 511.5L916.5 515.5L917.5 507.5V509.5L918.5 499.5L919.5 513.5V509.5L920.5 515.5V514.5H921.5L922.5 515.5V510.5L923.5 515.5L924.5 508.5L925.5 515.5V514.5L926.5 513.5L927.5 508.5V515.5L928.5 514.5V513.5L929.5 497.5L930.5 515.5V512.5L931.5 474.5V508.5L932.5 514.5H933.5V511.5L934.5 508.5V512.5L935.5 508.5L936.5 512.5L937.5 508.5L938.5 513.5V514.5L939.5 515.5V504.5L940.5 515.5H941.5H942.5V496.5L943.5 513.5L944.5 506.5V511.5L945.5 515.5L946.5 501.5V513.5L947.5 472.5V514.5H948.5L949.5 501.5V510.5L950.5 513.5V515.5H951.5L952.5 511.5V515.5L953.5 510.5L954.5 506.5V504.5L955.5 506.5V515.5L956.5 513.5L957.5 502.5V463.5L958.5 507.5V496.5L959.5 512.5L960.5 515.5L961.5 510.5L962.5 513.5V515.5L963.5 491.5V510.5L964.5 515.5L965.5 514.5V515.5L966.5 505.5V513.5L967.5 506.5L968.5 515.5L969.5 506.5L970.5 515.5H971.5V511.5L972.5 508.5L973.5 507.5V515.5H974.5V509.5L975.5 515.5H976.5H977.5H978.5V503.5L979.5 513.5V515.5L980.5 501.5L981.5 514.5V503.5L982.5 515.5V514.5L983.5 515.5L984.5 509.5V499.5L985.5 512.5L101.5 497.5V515.5L102.5 506.5V514.5L103.5 513.5L104.5 510.5V513.5L105.5 511.5V513.5L106.5 499.5L107.5 507.5V508.5L108.5 515.5V507.5L109.5 515.5H110.5L111.5 506.5L112.5 514.5V513.5L113.5 508.5V512.5L114.5 506.5L115.5 504.5V515.5L116.5 506.5V515.5L117.5 507.5L118.5 515.5H119.5L120.5 514.5V513.5L121.5 511.5V513.5L122.5 514.5H123.5L124.5 509.5V515.5H125.5H126.5V503.5L127.5 499.5L128.5 503.5V514.5L129.5 499.5V515.5L130.5 513.5L131.5 515.5V495.5L132.5 510.5V512.5L133.5 511.5L134.5 512.5V511.5L135.5 515.5H136.5V514.5L137.5 515.5V514.5H138.5L176.5 513.5" stroke="#00c000"/>
<path class="c" d="M175.5 508.5L176.5 517.5H177.5V499.5L178.5 517.5L179.5 509.5V505.5L180.5 516.5L181.5 507.5H182.5V516.5L183.5 489.5V509.5L184.5 497.5L185.5 504.5V515.5L186.5 517.5H187.5V507.5L188.5 503.5V501.5L189.5 517.5H190.5V508.5L191.5 516.5V517.5L192.5 504.5L193.5 509.5L194.5 517.5H195.5V504.5L196.5 516.5V509.5L197.5 499.5L198.5 509.5V517.5L199.5 501.5V517.5H200.5H201.5H202.5H203.5L204.5 498.5V517.5H205.5H206.5L207.5 509.5V507.5L208.5 509.5L209.5 497.5V499.5L210.5 517.5H211.5H212.5V506.5L213.5 517.5L214.5 504.5V506.5L215.5 516.5L216.5 506.5H217.5V507.5H218.5L219.5 517.5L220.5 508.5V506.5H221.5H222.5V501.5L223.5 509.5L224.5 517.5L225.5 503.5V507.5H226.5L227.5 516.5L228.5 517.5V508.5H229.5L230.5 517.5V502.5L231.5 503.5V517.5L232.5 504.5L233.5 517.5L234.5 505.5V516.5H235.5L236.5 505.5V502.5L237.5 491.5L238.5 516.5V509.5L239.5 499.5V509.5H240.5L241.5 498.5V507.5L242.5 509.5V502.5L243.5 509.5L244.5 503.5L245.5 517.5L246.5 504.5V517.5L247.5 502.5V517.5L248.5 506.5L249.5 509.5V503.5L250.5 516.5V517.5H251.5H252.5L253.5 509.5L254.5 507.5V516.5L255.5 490.5V515.5L256.5 507.5H257.5H258.5V517.5L259.5 498.5L260.5 509.5V504.5L261.5 502.5L262.5 517.5V507.5H263.5V516.5L264.5 490.5L265.5 501.5V505.5L266.5 500.5V509.5L267.5 508.5H268.5V517.5H269.5H270.5V509.5L271.5 508.5V516.5L272.5 498.5H273.5V504.5L274.5 482.5V517.5L275.5 507.5H276.5L277.5 497.5L278.5 516.5H279.5V508.5L280.5 516.5L281.5 507.5V504.5L282.5 517.5L283.5 516.5L284.5 504.5V498.5L285.5 516.5V508.5L286.5 517.5L287.5 516.5L288.5 509.5L289.5 506.5H290.5V499.5L291.5 507.5L292.5 517.5V489.5L293.5 509.5V503.5L294.5 509.5H295.5V516.5L296.5 504.5L297.5 505.5V509.5L298.5 499.5V509.5L299.5 505.5L300.5 498.5V515.5L301.5 508.5L302.5 500.5H303.5V509.5L304.5 500.5L305.5 517.5H306.5H307.5H308.5V474.5L309.5 517.5L310.5 500.5L311.5 501.5V509.5L312.5 517.5L313.5 507.5V505.5H314.5L315.5 497.5L316.5 504.5V517.5H317.5V505.5L318.5 500.5L319.5 509.5V517.5L320.5 506.5H321.5H322.5L323.5 517.5H324.5L325.5 505.5L326.5 508.5H327.5L328.5 503.5L329.5 509.5V506.5L330.5 498.5V505.5L331.5 504.5L332.5 509.5V478.5L333.5 501.5L334.5 509.5L335.5 500.5V509.5L336.5 498.5L337.5 505.5V517.5L338.5 507.5L339.5 502.5L340.5 516.5V503.5L341.5 505.5V516.5L342.5 508.5L343.5 499.5V517.5H344.5V504.5L345.5 498.5L346.5 508.5V503.5L347.5 509.5L348.5 506.5V517.5H349.5L350.5 508.5L351.5 517.5L352.5 516.5V508.5H353.5L354.5 499.5V516.5H355.5L356.5 497.5V516.5L357.5 503.5V508.5H358.5H359.5L360.5 503.5V509.5H361.5H362.5V502.5L363.5 506.5L364.5 505.5V517.5H365.5V501.5L366.5 509.5H367.5L368.5 493.5V508.5L369.5 502.5L370.5 509.5V517.5L371.5 516.5L372.5 503.5V516.5L373.5 499.5V516.5L374.5 507.5L375.5 504.5V501.5L376.5 497.5V517.5H377.5L378.5 506.5V516.5H379.5L380.5 507.5L381.5 485.5V509.5L382.5 506.5L383.5 504.5V506.5L384.5 504.5V497.5L385.5 504.5L386.5 508.5V516.5H387.5L388.5 517.5V508.5H389.5V517.5L390.5 503.5L391.5 516.5L392.5 517.5V516.5L393.5 517.5H394.5L395.5 504.5L396.5 500.5V502.5L397.5 517.5V506.5L398.5 501.5L399.5 508.5V498.5L400.5 516.5V502.5L401.5 506.5L402.5 517.5V508.5L403.5 516.5V508.5L404.5 517.5H405.5V516.5L406.5 507.5H407.5V508.5H408.5V506.5H409.5L410.5 505.5V507.5H411.5V503.5L412.5 500.5L413.5 504.5V505.5H414.5L415.5 499.5V500.5L416.5 516.5V499.5L417.5 508.5L418.5 517.5V504.5L419.5 517.5H420.5L421.5 506.5V517.5H422.5L423.5 504.5V517.5H424.5V506.5L425.5 517.5L426.5 505.5V517.5L427.5 505.5V507.5L428.5 502.5L429.5 509.5H430.5L431.5 516.5V501.5L432.5 505.5H433.5L434.5 502.5V507.5H435.5V517.5L436.5 486.5L437.5 517.5V508.5L438.5 517.5L439.5 506.5V504.5L440.5 509.5V500.5L441.5 509.5L442.5 507.5V504.5L443.5 517.5V505.5L444.5 508.5L445.5 498.5V499.5L446.5 517.5H447.5H448.5V506.5L449.5 476.5L450.5 506.5V507.5H451.5L452.5 508.5L453.5 517.5V508.5L454.5 516.5L455.5 507.5L456.5 508.5V506.5L457.5 497.5L458.5 505.5V517.5H459.5V497.5L460.5 516.5L461.5 507.5H462.5V517.5H463.5L464.5 505.5V516.5L465.5 487.5L466.5 517.5L467.5 505.5H468.5H469.5V502.5L470.5 509.5V508.5L471.5 506.5H472.5V501.5L473.5 507.5L474.5 505.5V508.5H475.5V516.5L476.5 517.5L477.5 502.5V517.5L478.5 490.5V506.5L479.5 517.5H480.5H481.5H482.5V506.5L483.5 507.5L484.5 503.5L485.5 517.5V508.5H486.5V517.5L487.5 508.5H488.5V501.5L489.5 499.5L490.5 509.5V507.5L491.5 517.5L492.5 505.5L493.5 507.5V517.5H494.5L495.5 505.5L496.5 517.5H497.5L498.5 508.5V517.5H499.5V516.5L500.5 497.5L501.5 503.5V505.5L502.5 499.5V504.5L503.5 517.5H504.5V516.5L505.5 501.5L506.5 508.5L507.5 517.5H508.5L509.5 505.5V516.5L510.5 504.5V506.5L511.5 508.5L512.5 517.5L513.5 501.5L514.5 516.5L515.5 517.5V505.5L516.5 507.5L517.5 516.5L518.5 506.5V516.5L519.5 501.5L520.5 507.5V517.5H521.5V500.5L522.5 517.5H523.5V503.5L524.5 505.5L525.5 517.5H526.5V516.5L527.5 497.5L528.5 516.5H529.5V506.5H530.5L531.5 505.5V517.5H532.5H533.5L534.5 506.5V502.5L535.5 509.5H536.5V503.5L537.5 517.5L538.5 500.5L539.5 476.5V517.5L540.5 504.5L541.5 508.5V516.5L542.5 515.5V508.5L543.5 517.5H544.5H545.5V503.5L546.5 491.5L547.5 517.5L548.5 505.5L549.5 507.5V505.5L550.5 507.5V504.5L551.5 501.5L552.5 517.5H553.5H554.5H555.5L556.5 504.5L557.5 507.5V504.5L558.5 517.5V506.5L559.5 517.5L560.5 503.5V516.5H561.5L562.5 504.5L563.5 517.5V516.5L564.5 517.5H565.5L566.5 502.5V517.5L567.5 505.5L568.5 506.5V508.5H569.5V501.5L570.5 504.5L571.5 517.5H572.5L573.5 501.5V517.5L574.5 507.5V506.5L575.5 508.5L576.5 517.5V508.5L577.5 517.5V499.5L578.5 507.5L579.5 517.5V503.5L580.5 506.5V516.5L581.5 508.5H582.5V499.5L583.5 517.5L584.5 507.5V504.5L585.5 509.5V505.5L586.5 501.5L587.5 500.5V517.5H588.5L589.5 508.5H590.5V501.5L591.5 517.5H592.5V503.5H593.5V509.5H594.5L595.5 517.5V516.5L596.5 517.5V503.5L597.5 505.5H598.5L599.5 506.5L600.5 497.5V517.5H601.5L602.5 506.5L603.5 504.5V509.5L604.5 500.5V506.5H605.5L606.5 517.5V516.5L607.5 507.5L608.5 504.5V499.5L609.5 509.5V506.5L610.5 508.5L611.5 517.5L612.5 507.5V516.5L613.5 517.5L614.5 503.5V502.5L615.5 509.5L616.5 506.5V499.5L617.5 498.5V517.5H618.5H619.5V516.5L620.5 507.5V517.5H621.5H622.5V507.5L623.5 517.5L624.5 505.5V497.5L625.5 509.5V507.5H626.5L627.5 503.5V507.5L628.5 506.5V507.5L629.5 502.5L630.5 517.5V501.5L631.5 509.5L632.5 500.5V509.5L633.5 497.5V509.5H634.5L635.5 517.5V507.5H636.5H637.5L638.5 517.5V498.5L639.5 517.5L640.5 499.5L641.5 507.5L642.5 505.5H643.5V516.5L644.5 505.5V517.5L645.5 497.5L646.5 517.5V505.5L647.5 503.5V517.5L648.5 507.5L649.5 498.5V503.5L650.5 508.5L651.5 502.5V504.5L652.5 509.5V517.5H653.5L654.5 502.5V508.5L655.5 516.5V517.5H656.5L657.5 506.5L658.5 498.5L659.5 509.5V508.5H660.5V506.5H661.5L662.5 517.5V505.5H663.5V506.5L664.5 505.5L665.5 517.5V515.5L666.5 497.5L667.5 517.5H668.5L669.5 507.5L670.5 517.5L671.5 505.5V500.5L672.5 509.5H673.5L674.5 501.5L675.5 504.5V508.5H676.5V517.5L677.5 508.5L678.5 517.5H679.5H680.5H681.5L682.5 508.5L683.5 505.5V517.5H684.5V508.5L685.5 482.5L686.5 498.5V516.5L687.5 507.5V504.5L688.5 517.5H689.5V516.5L690.5 508.5L691.5 506.5V517.5H692.5H693.5L694.5 503.5V517.5L695.5 516.5V498.5L696.5 509.5L697.5 508.5L698.5 517.5V506.5L699.5 503.5L700.5 517.5V508.5L701.5 517.5L702.5 501.5V509.5H703.5V505.5L704.5 517.5L705.5 502.5V517.5L706.5 504.5V509.5L707.5 502.5L708.5 504.5V507.5L709.5 500.5L710.5 497.5V506.5L711.5 504.5V517.5L712.5 499.5L713.5 509.5L714.5 507.5V516.5H715.5L716.5 485.5V507.5L717.5 506.5H718.5V517.5H719.5V516.5L720.5 517.5H721.5V507.5L722.5 517.5V503.5L723.5 507.5L724.5 517.5V505.5L725.5 498.5L726.5 503.5L727.5 504.5V509.5L728.5 517.5H729.5H730.5V498.5L731.5 506.5L732.5 517.5V508.5L733.5 504.5L734.5 509.5V474.5L735.5 501.5V504.5L736.5 516.5L737.5 501.5V509.5H738.5V501.5L739.5 507.5H740.5L741.5 517.5L742.5 504.5V509.5L743.5 497.5V509.5L744.5 517.5L745.5 500.5V508.5L746.5 517.5H747.5H748.5H749.5L750.5 508.5L751.5 505.5V517.5L752.5 504.5L753.5 498.5V503.5L754.5 509.5V517.5H755.5L756.5 505.5V517.5L757.5 516.5V502.5L758.5 509.5L759.5 501.5V509.5L760.5 501.5L761.5 517.5V497.5L762.5 507.5V505.5L763.5 517.5L764.5 516.5V503.5H765.5V508.5L766.5 516.5L767.5 502.5V517.5L768.5 503.5L769.5 497.5V509.5L770.5 500.5V507.5H771.5L772.5 517.5V500.5L773.5 499.5V507.5L774.5 497.5L775.5 509.5V516.5L776.5 499.5L777.5 507.5V499.5L778.5 485.5V516.5H779.5L780.5 505.5V498.5L781.5 517.5H782.5H783.5V504.5L784.5 507.5L785.5 497.5V509.5L786.5 497.5V517.5H787.5L788.5 497.5V509.5L789.5 499.5V497.5L790.5 506.5L791.5 502.5V505.5H792.5H793.5V487.5L794.5 509.5V505.5H795.5L796.5 508.5V507.5L797.5 517.5V504.5L798.5 503.5L799.5 517.5H800.5L801.5 508.5V505.5H802.5V517.5H803.5L804.5 502.5V509.5L805.5 517.5V516.5L806.5 517.5L807.5 498.5V517.5H808.5H809.5H810.5V516.5L811.5 517.5L812.5 501.5V517.5L813.5 502.5V507.5H814.5L815.5 502.5V487.5L816.5 517.5V499.5L817.5 501.5L818.5 517.5L819.5 516.5L820.5 504.5V507.5L821.5 502.5V505.5L822.5 508.5L823.5 497.5V517.5L824.5 507.5V504.5L825.5 517.5L826.5 508.5V507.5L827.5 516.5H828.5V502.5L829.5 517.5H830.5L831.5 503.5V517.5H832.5L833.5 503.5L834.5 475.5V517.5H835.5L836.5 503.5V509.5H837.5L838.5 517.5L839.5 516.5V505.5L840.5 503.5V509.5H841.5L842.5 501.5V516.5L843.5 517.5H844.5V501.5L845.5 517.5L846.5 502.5L847.5 517.5H848.5V504.5L849.5 474.5L850.5 502.5V505.5L851.5 507.5L852.5 501.5V502.5L853.5 509.5V517.5H854.5H855.5V498.5L856.5 506.5V517.5L857.5 506.5L858.5 503.5L859.5 509.5L860.5 503.5V502.5H861.5V504.5L862.5 517.5L863.5 502.5V509.5L864.5 504.5V506.5L865.5 500.5L866.5 517.5V497.5L867.5 501.5L868.5 502.5V507.5L869.5 517.5L870.5 503.5L871.5 509.5V508.5L872.5 507.5L873.5 517.5L874.5 506.5V501.5H875.5V506.5L876.5 497.5L877.5 517.5V506.5L878.5 516.5L879.5 501.5V516.5H880.5V517.5L881.5 506.5L882.5 505.5L883.5 504.5V516.5H884.5L885.5 517.5V506.5H886.5L887.5 517.5L888.5 507.5V517.5L889.5 508.5L890.5 504.5V505.5H891.5V507.5L892.5 504.5L893.5 509.5V517.5H894.5H895.5V498.5L896.5 507.5V517.5H897.5H898.5L899.5 507.5V508.5L900.5 517.5L901.5 504.5V499.5L902.5 508.5H903.5V500.5L904.5 517.5V505.5L905.5 508.5L906.5 505.5V504.5L907.5 482.5V508.5L908.5 516.5L909.5 505.5V498.5L910.5 497.5L911.5 508.5V505.5L912.5 497.5V517.5H913.5L914.5 506.5H915.5V499.5L916.5 509.5H917.5V501.5L918.5 508.5L919.5 517.5H920.5V508.5L921.5 497.5L922.5 517.5L923.5 505.5V504.5L924.5 506.5H925.5L926.5 505.5H927.5V503.5L928.5 509.5V507.5H929.5L930.5 516.5V517.5H931.5L932.5 501.5L933.5 507.5V517.5H934.5V504.5L935.5 516.5H936.5V507.5L937.5 516.5L938.5 517.5L939.5 506.5V499.5L940.5 501.5L941.5 502.5V517.5H942.5V516.5L943.5 517.5H944.5L945.5 508.5H946.5V505.5L947.5 517.5V505.5L948.5 516.5L949.5 506.5V517.5L950.5 516.5V507.5L951.5 517.5L952.5 497.5V517.5L953.5 502.5L954.5 509.5V504.5L955.5 503.5V508.5L956.5 501.5L957.5 517.5V499.5L958.5 509.5V505.5L959.5 485.5L960.5 516.5V517.5H961.5H962.5V507.5L963.5 506.5V502.5L964.5 508.5L965.5 517.5V504.5L966.5 509.5V507.5L967.5 517.5L968.5 501.5V517.5L969.5 507.5L970.5 517.5H971.5H972.5H973.5H974.5L975.5 516.5L976.5 506.5V503.5L977.5 505.5L978.5 516.5L979.5 504.5V507.5H980.5L981.5 517.5L982.5 485.5L101.5 516.5V517.5L102.5 499.5V509.5H103.5H104.5V516.5L105.5 501.5V507.5L106.5 516.5L107.5 517.5L108.5 508.5V509.5L109.5 507.5L110.5 508.5H111.5L112.5 502.5V517.5L113.5 509.5V507.5H114.5L115.5 517.5V508.5H116.5V504.5L117.5 509.5H118.5L119.5 517.5L120.5 503.5V506.5H121.5V509.5L122.5 517.5H123.5V502.5L124.5 509.5V517.5H125.5L126.5 502.5V517.5H127.5L128.5 508.5H129.5V517.5L130.5 506.5L131.5 517.5V509.5L132.5 516.5V503.5L133.5 502.5L134.5 509.5V517.5H135.5L136.5 508.5V517.5L137.5 515.5H138.5L176.5 514.5" stroke="#0080ff"/>
<use href="#oc" x="102.5" y="473.5"/><use href="#oc" x="135.5" y="477.5"/><use href="#oc" x="176.5" y="492.5"/><use href="#oc" x="209.5" y="482.5"/><use href="#oc" x="213.5" y="493.5"/><use href="#oc" x="245.5" y="487.5"/><use href="#oc" x="250.5" y="485.5"/><use href="#oc" x="282.5" y="489.5"/><use href="#oc" x="287.5" y="484.5"/><use href="#oc" x="318.5" y="492.5"/><use href="#oc" x="323.5" y="492.5"/><use href="#oc" x="356.5" y="492.5"/><use href="#oc" x="360.5" y="492.5"/><use href="#oc" x="393.5" y="489.5"/><use href="#oc" x="397.5" y="492.5"/><use href="#oc" x="430.5" y="483.5"/><use href="#oc" x="434.5" y="474.5"/><use href="#oc" x="467.5" y="479.5"/><use href="#oc" x="471.5" y="475.5"/><use href="#oc" x="504.5" y="480.5"/><use href="#oc" x="508.5" y="477.5"/><use href="#oc" x="540.5" y="464.5"/><use href="#oc" x="545.5" y="476.5"/><use href="#oc" x="577.5" y="472.5"/><use href="#oc" x="582.5" y="465.5"/><use href="#oc" x="614.5" y="450.5"/><use href="#oc" x="618.5" y="441.5"/><use href="#oc" x="651.5" y="444.5"/><use href="#oc" x="655.5" y="439.5"/><use href="#oc" x="688.5" y="435.5"/><use href="#oc" x="692.5" y="448.5"/><use href="#oc" x="725.5" y="447.5"/><use href="#oc" x="729.5" y="446.5"/><use href="#oc" x="762.5" y="398.5"/><use href="#oc" x="766.5" y="437.5"/><use href="#oc" x="799.5" y="427.5"/><use href="#oc" x="803.5" y="443.5"/><use href="#oc" x="835.5" y="443.5"/><use href="#oc" x="840.5" y="438.5"/><use href="#oc" x="872.5" y="461.5"/><use href="#oc" x="877.5" y="453.5"/><use href="#oc" x="909.5" y="457.5"/><use href="#oc" x="913.5" y="460.5"/><use href="#oc" x="946.5" y="470.5"/><use href="#oc" x="950.5" y="421.5"/><use href="#oc" x="983.5" y="490.5"/>
<use href="#fc" x="102.5" y="518.5"/><use href="#fc" x="135.5" y="519.5"/><use href="#fc" x="176.5" y="519.5"/><use href="#fc" x="209.5" y="519.5"/><use href="#fc" x="213.5" y="519.5"/><use href="#fc" x="245.5" y="519.5"/><use href="#fc" x="250.5" y="519.5"/><use href="#fc" x="282.5" y="519.5"/><use href="#fc" x="287.5" y="519.5"/><use href="#fc" x="318.5" y="518.5"/><use href="#fc" x="323.5" y="518.5"/><use href="#fc" x="356.5" y="518.5"/><use href="#fc" x="360.5" y="518.5"/><use href="#fc" x="393.5" y="519.5"/><use href="#fc" x="397.5" y="519.5"/><use href="#fc" x="430.5" y="519.5"/><use href="#fc" x="434.5" y="519.5"/><use href="#fc" x="467.5" y="519.5"/><use href="#fc" x="471.5" y="519.5"/><use href="#fc" x="504.5" y="519.5"/><use href="#fc" x="508.5" y="519.5"/><use href="#fc" x="540.5" y="519.5"/><use href="#fc" x="545.5" y="519.5"/><use href="#fc" x="577.5" y="519.5"/><use href="#fc" x="582.5" y="519.5"/><use href="#fc" x="614.5" y="519.5"/><use href="#fc" x="618.5" y="519.5"/><use href="#fc" x="651.5" y="518.5"/><use href="#fc" x="655.5" y="518.5"/><use href="#fc" x="688.5" y="519.5"/><use href="#fc" x="692.5" y="519.5"/><use href="#fc" x="725.5" y="519.5"/><use href="#fc" x="729.5" y="519.5"/><use href="#fc" x="762.5" y="519.5"/><use href="#fc" x="766.5" y="519.5"/><use href="#fc" x="799.5" y="519.5"/><use href="#fc" x="803.5" y="519.5"/><use href="#fc" x="835.5" y="519.5"/><use href="#fc" x="840.5" y="519.5"/><use href="#fc" x="872.5" y="519.5"/><use href="#fc" x="877.5" y="519.5"/><use href="#fc" x="909.5" y="519.5"/><use href="#fc" x="913.5" y="519.5"/><use href="#fc" x="946.5" y="519.5"/><use href="#fc" x="950.5" y="519.5"/><use href="#fc" x="983.5" y="519.5"/>
<use href="#tr" x="372.5" y="450.5"/>
<text x="682.26 689.62 699.54 709.78 714.26 724.5 734.74 741.14 751.06 759.38 769.62 774.1 780.5 785.62 792.02 801.62 808.02 815.38 820.5 830.74 839.06 843.54 853.78 864.02 869.14 879.38 884.82" y="96">"Ypingresult.txt" using 1:2</text>
<text x="663.38 670.74 680.66 689.94 694.42 710.1 720.02 726.42 735.06 745.3 755.54 760.02 770.26 780.5 785.62 792.02 801.62 808.02 815.38 820.5 830.74 839.06 843.54 853.78 864.02 869.14 879.38 884.82" y="115">"YTimetcpping.txt" using 1:2</text>
<text x="615.06 622.42 631.38 642.58 652.82 661.14 667.54 676.82 681.3 691.54 701.78 712.02 716.5 722.9 732.82 742.1 746.58 762.26 772.18 780.5 785.62 792.02 801.62 808.02 815.38 820.5 830.74 839.06 843.54 853.78 864.02 869.14 879.38 884.82" y="134">"YCustPingSiteTimes.txt" using 1:2</text>
<text x="669.14 676.5 684.18 694.1 699.86 705.62 710.1 714.58 724.82 734.74 741.14 751.06 759.38 769.62 774.1 780.5 785.62 792.02 801.62 808.02 815.38 820.5 830.74 839.06 843.54 853.78 864.02 869.14 879.38 884.82" y="153">"Yofflineresult.txt" using 1:2</text>
<text x="656.98 664.34 674.26 680.66 689.3 699.54 709.46 715.22 720.98 728.98 735.38 745.3 753.94 763.86 770.26 780.5 785.62 792.02 801.62 808.02 815.38 820.5 830.74 839.06 843.54 853.78 864.02 869.14 879.38 884.82" y="172">"Ytcpoff_record.txt" using 1:2</text>
<text x="641.94 649.3 659.22 669.46 679.38 689.3 699.54 704.02 713.94 722.58 732.82 739.54 744.02 750.42 754.9 770.58 780.5 785.62 792.02 801.62 808.02 815.38 820.5 830.74 839.06 843.54 853.78 864.02 869.14 879.38 884.82" y="191">"Ygooglecurltime.txt" using 1:2</text>
<text x="613.14 620.5 630.42 640.66 650.58 660.5 670.74 675.22 685.14 693.78 704.02 710.74 715.22 725.46 735.7 744.02 750.42 754.9 770.58 780.5 785.62 792.02 801.62 808.02 815.38 820.5 830.74 839.06 843.54 853.78 864.02 869.14 879.38 884.82" y="210">"Ygooglecurldnstime.txt" using 1:2</text>
<text x="627.86 635.22 644.18 655.38 665.62 673.94 680.34 689.62 694.1 704.34 714.58 723.86 728.34 744.02 753.94 763.86 774.1 780.5 785.62 792.02 801.62 808.02 815.38 820.5 830.74 839.06 843.54 853.78 864.02 869.14 879.38 884.82" y="229">"YCustPingTimeout.txt" using 1:2</text>
<text x="660.5 667.86 677.78 689.94 699.54 709.78 714.26 724.5 734.74 741.14 751.06 759.38 769.62 774.1 780.5 785.62 792.02 801.62 808.02 815.38 820.5 830.74 839.06 843.54 853.78 864.02 869.14 879.38 884.82" y="248">"YHPpingresult.txt" using 1:2</text>
<path class="c" d="M908 92.5H965" stroke="#ff0000"/>
<path class="c" d="M908 111.5H965" stroke="#00c000"/>
<path class="c" d="M908 130.5H965" stroke="#0080ff"/>
<rect class="c" x="930.5" y="143.5" width="12" height="12" stroke="#c000ff"/>
<rect x="930.0" y="162.0" width="13" height="13" fill="#00eeee" shape-rendering="crispEdges"/>
<use href="#oc" x="936.5" y="187.5"/>
<use href="#fc" x="936.5" y="206.5"/>
<use href="#tr" x="936.5" y="225.5"/>
<path class="c" d="M930.0 244.5h13M936.5 238.0v13" stroke="#ffc020"/>
<path class="c" d="M101.5 77.5H986.5V519.5H101.5Z" stroke="#000"/>
</svg></body></html>
